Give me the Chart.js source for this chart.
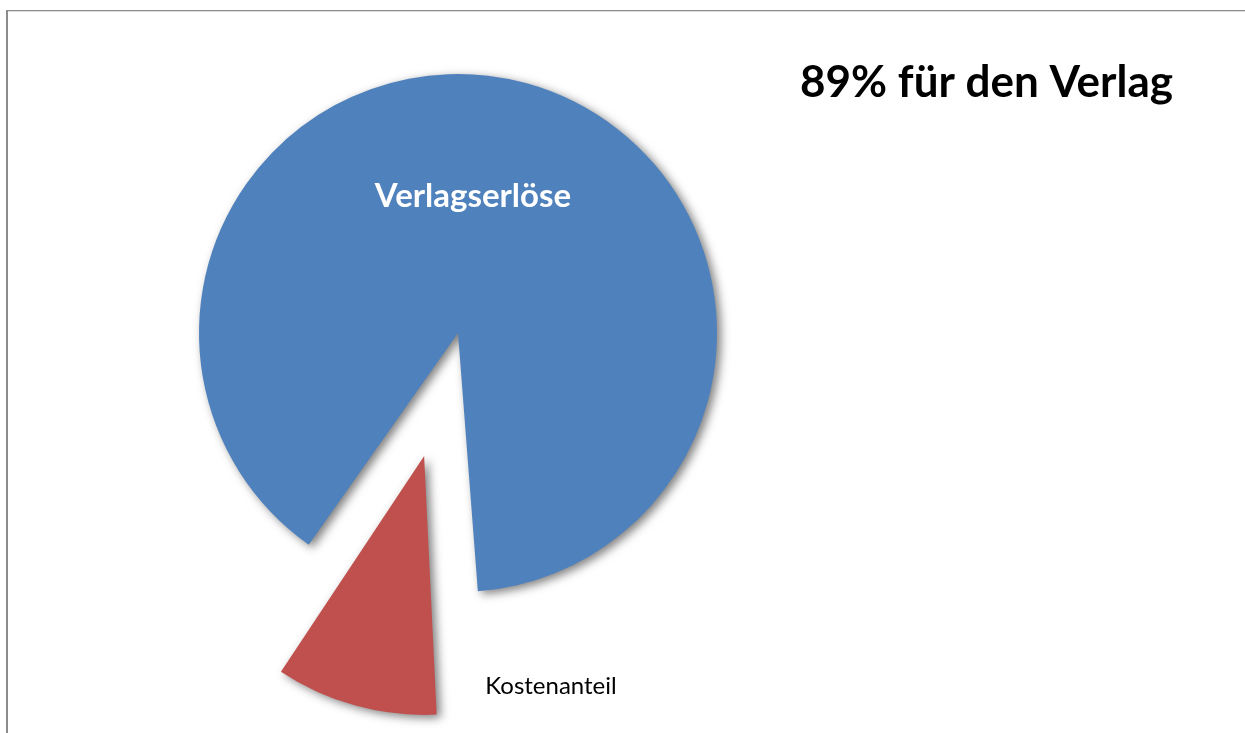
<!DOCTYPE html>
<html>
<head>
<meta charset="utf-8">
<script src="https://cdn.jsdelivr.net/npm/chart.js@4.4.1/dist/chart.umd.min.js"></script>
<style>
  html, body { margin: 0; padding: 0; background: #ffffff; }
  #wrap { position: relative; width: 1245px; height: 733px; }
  canvas { display: block; }
</style>
</head>
<body>
<div id="wrap"><canvas id="c" width="1245" height="733"></canvas></div>
<script>
const categories = ['Verlagserlöse', 'Kostenanteil'];
const shares = [89, 11];
const titleText = '89% für den Verlag';
const sliceColors = ['#4F81BD', '#C0504D'];
const explode = [0, 510];

const FONT = 'Lato, "Open Sans", sans-serif';
const PIE_RADIUS = 259;

const framePlugin = {
  id: 'frame',
  beforeDraw(chart) {
    const ctx = chart.ctx;
    ctx.save();
    ctx.fillStyle = '#ffffff';
    ctx.fillRect(0, 0, chart.width, chart.height);
    ctx.fillStyle = '#8c8c8c';
    ctx.fillRect(6, 10, 2, chart.height - 10);
    ctx.fillRect(6, 10, chart.width - 6, 1.3);
    ctx.restore();
  }
};

// keep exploded slices at the same radius (Chart.js enlarges narrow exploded arcs)
const keepRadiusPlugin = {
  id: 'keepRadius',
  afterDatasetUpdate(chart, args) {
    const meta = chart.getDatasetMeta(args.index);
    meta.data.forEach((arc) => {
      const off = (arc.options && arc.options.offset) || 0;
      if (!off) return;
      const circ = arc.circumference;
      const fix = 1 - Math.sin(Math.min(Math.PI, circ || 0));
      arc.outerRadius = PIE_RADIUS - (off / 4) * fix;
    });
  }
};

const shadowPlugin = {
  id: 'sliceShadow',
  beforeDatasetsDraw(chart) {
    const ctx = chart.ctx;
    ctx.save();
    ctx.shadowColor = 'rgba(0,0,0,0.5)';
    ctx.shadowBlur = 10;
    ctx.shadowOffsetX = 4;
    ctx.shadowOffsetY = 3;
  },
  afterDatasetsDraw(chart) {
    chart.ctx.restore();
  }
};

const textPlugin = {
  id: 'texts',
  afterDraw(chart) {
    const ctx = chart.ctx;
    const arcs = chart.getDatasetMeta(0).data;
    const cx = arcs[0].x, cy = arcs[0].y;
    ctx.save();
    ctx.fillStyle = '#000000';
    ctx.font = 'bold 44px ' + FONT;
    ctx.textAlign = 'right';
    ctx.textBaseline = 'alphabetic';
    ctx.fillText(titleText, 1173, 97);
    ctx.textAlign = 'center';
    ctx.fillStyle = '#ffffff';
    ctx.font = 'bold 33px ' + FONT;
    ctx.fillText(categories[0], cx + 15, cy - 126);
    ctx.fillStyle = '#000000';
    ctx.font = '24px ' + FONT;
    ctx.fillText(categories[1], cx + 93, cy + 361);
    ctx.restore();
  }
};

new Chart(document.getElementById('c'), {
  type: 'pie',
  data: {
    labels: categories,
    datasets: [{
      data: shares,
      backgroundColor: sliceColors,
      borderWidth: 0,
      offset: explode,
      hoverOffset: 0,
      radius: PIE_RADIUS
    }]
  },
  options: {
    responsive: false,
    animation: false,
    rotation: 215.2,
    layout: { padding: { left: 0, top: 0, right: 329, bottom: 67 } },
    plugins: {
      legend: { display: false },
      tooltip: { enabled: false },
      title: { display: false }
    },
    events: []
  },
  plugins: [framePlugin, keepRadiusPlugin, shadowPlugin, textPlugin]
});
</script>
</body>
</html>
